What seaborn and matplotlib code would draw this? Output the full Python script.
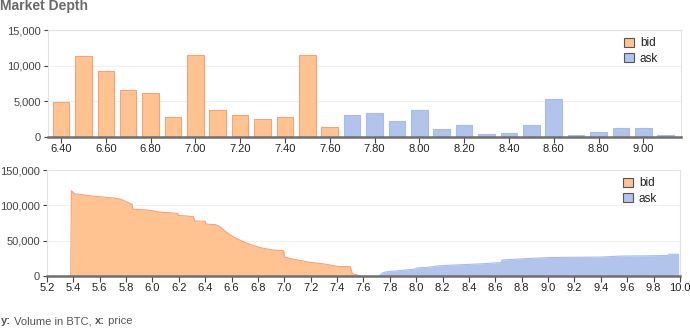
import numpy as np
import pandas as pd
import matplotlib
matplotlib.use("Agg")
import matplotlib.pyplot as plt
from matplotlib.patches import Patch
from matplotlib.ticker import FuncFormatter, MultipleLocator
import seaborn as sns

# ---------------- data ----------------
bid_prices = [6.40, 6.50, 6.60, 6.70, 6.80, 6.90, 7.00, 7.10, 7.20, 7.30, 7.40, 7.50, 7.60]
bid_volumes = [4850, 11350, 9300, 6600, 6130, 2800, 11500, 3830, 3040, 2520, 2800, 11500, 1360]
ask_prices = [7.70, 7.80, 7.90, 8.00, 8.10, 8.20, 8.30, 8.40, 8.50, 8.60, 8.70, 8.80, 8.90, 9.00, 9.10]
ask_volumes = [3090, 3320, 2290, 3740, 1120, 1640, 420, 600, 1640, 5280, 250, 700, 1260, 1260, 250]

depth_bid_price = [5.38, 5.385, 5.41, 5.45, 5.51, 5.55, 5.61, 5.66, 5.70, 5.75, 5.78, 5.80,
                   5.845, 5.85, 5.90, 5.95, 6.00, 6.05, 6.08, 6.15, 6.19, 6.20, 6.25, 6.31,
                   6.32, 6.40, 6.405, 6.48, 6.51, 6.56, 6.61, 6.66, 6.72, 6.77, 6.82, 6.91,
                   6.995, 7.00, 7.05, 7.10, 7.15, 7.19, 7.25, 7.30, 7.35, 7.41, 7.50, 7.515,
                   7.55, 7.58]
depth_bid_vol = [0, 120700, 116000, 115500, 114000, 113000, 112000, 111000, 110500, 109000, 107000, 105000,
                 101500, 94500, 94000, 93500, 92400, 90500, 90000, 89200, 88600, 85500, 85000, 84000,
                 77800, 77400, 73500, 72600, 70000, 62000, 55600, 51000, 46000, 43000, 40000, 36800,
                 35800, 26800, 24500, 22600, 21000, 19400, 18200, 17000, 15500, 13400, 13200, 3100,
                 1500, 0]
depth_ask_price = [7.72, 7.74, 7.77, 7.85, 7.92, 7.99, 8.01, 8.10, 8.16, 8.25, 8.35, 8.49,
                   8.60, 8.645, 8.65, 8.76, 8.85, 9.02, 9.20, 9.40, 9.55, 9.70, 9.91, 9.915,
                   9.99]
depth_ask_vol = [0, 4000, 5800, 7300, 8500, 9800, 11500, 12500, 14200, 15200, 16000, 17200,
                 18500, 19000, 22600, 23800, 24800, 26200, 26500, 26800, 28200, 28500, 29000, 30800,
                 30800]

bid_color = "#FFC391"
bid_edge = "#F3A27C"
ask_color = "#B2C4EC"
ask_edge = "#A9BCE8"

# ---------------- figure ----------------
sns.set_theme(style="white")
plt.rcParams["font.family"] = ["Liberation Sans", "DejaVu Sans"]

fig = plt.figure(figsize=(6.9, 3.28), dpi=100)
W, H = 690, 328
def ax_rect(l, t, r, b):
    return [l / W, 1 - b / H, (r - l) / W, (b - t) / H]

ax1 = fig.add_axes(ax_rect(48, 30, 681, 137))
ax2 = fig.add_axes(ax_rect(47, 170, 680, 276))

df_bid = pd.DataFrame({"price": bid_prices, "volume": bid_volumes})
df_ask = pd.DataFrame({"price": ask_prices, "volume": ask_volumes})

sns.barplot(data=df_bid, x="price", y="volume", native_scale=True, width=0.74,
            color=bid_color, edgecolor=bid_edge, linewidth=0.8, saturation=1, ax=ax1, errorbar=None)
sns.barplot(data=df_ask, x="price", y="volume", native_scale=True, width=0.74,
            color=ask_color, edgecolor=ask_edge, linewidth=0.8, saturation=1, ax=ax1, errorbar=None)

ax1.set_xlim(6.342, 9.168)
ax1.set_ylim(0, 15000)
ax1.yaxis.set_major_locator(MultipleLocator(5000))
ax1.xaxis.set_major_locator(MultipleLocator(0.2))
ax1.xaxis.set_major_formatter(FuncFormatter(lambda v, p: f"{v:.2f}"))

# depth chart
sns.lineplot(x=depth_bid_price, y=depth_bid_vol, color=bid_edge, lw=0.8, sort=False,
             estimator=None, ax=ax2)
ax2.fill_between(depth_bid_price, depth_bid_vol, 0, color=bid_color, lw=0)
sns.lineplot(x=depth_ask_price, y=depth_ask_vol, color=ask_edge, lw=0.8, sort=False,
             estimator=None, ax=ax2)
ax2.fill_between(depth_ask_price, depth_ask_vol, 0, color=ask_color, lw=0)
ax2.set_xlim(5.2, 10.0)
ax2.set_ylim(0, 150000)
ax2.yaxis.set_major_locator(MultipleLocator(50000))
ax2.xaxis.set_major_locator(MultipleLocator(0.2))
ax2.xaxis.set_major_formatter(FuncFormatter(lambda v, p: f"{v:.1f}"))

for ax, ly in ((ax1, 0.955), (ax2, 0.955)):
    ax.set_xlabel("")
    ax.set_ylabel("")
    ax.yaxis.set_major_formatter(FuncFormatter(lambda v, p: f"{int(v):,}"))
    ax.grid(axis="y", color="#F0F0F0", lw=0.8)
    ax.set_axisbelow(True)
    for s in ("top", "right", "left"):
        ax.spines[s].set_color("#E2E2E2")
        ax.spines[s].set_linewidth(0.8)
    ax.spines["bottom"].set_color("#6E6E6E")
    ax.spines["bottom"].set_linewidth(1.8)
    ax.spines["bottom"].set_zorder(5)
    ax.tick_params(axis="x", bottom=True, length=4, width=0.8, color="#444444",
                   labelsize=8, labelcolor="#222222", pad=1)
    ax.tick_params(axis="y", left=True, length=3, width=0.8, color="#444444",
                   labelsize=8, labelcolor="#444444", pad=2)
    handles = [Patch(facecolor=bid_color, edgecolor="#555555", lw=0.8, label="bid"),
               Patch(facecolor=ask_color, edgecolor="#555555", lw=0.8, label="ask")]
    ax.legend(handles=handles, loc="upper left", bbox_to_anchor=(0.907, ly),
              frameon=False, fontsize=8.5, handlelength=0.8, handleheight=0.8,
              handletextpad=0.5, labelspacing=0.3, borderaxespad=0, borderpad=0.2,
              labelcolor="#222222")

# title
fig.text(0.0, 1.0 + 1 / H, "Market Depth", fontsize=10, fontweight="bold",
         color="#6A6A6A", ha="left", va="top")

# footer with bold keys
renderer = fig.canvas.get_renderer()
x = 1 / W
y = 1 - 321 / H
parts = [("y:", "bold"), (" Volume in BTC, ", "normal"), ("x:", "bold"), (" price", "normal")]
for txt, wt in parts:
    t = fig.text(x, y, txt, fontsize=8, fontweight=wt, color="#555555", ha="left", va="center")
    bb = t.get_window_extent(renderer=renderer)
    x += bb.width / W

fig.savefig("out.png", dpi=100)
